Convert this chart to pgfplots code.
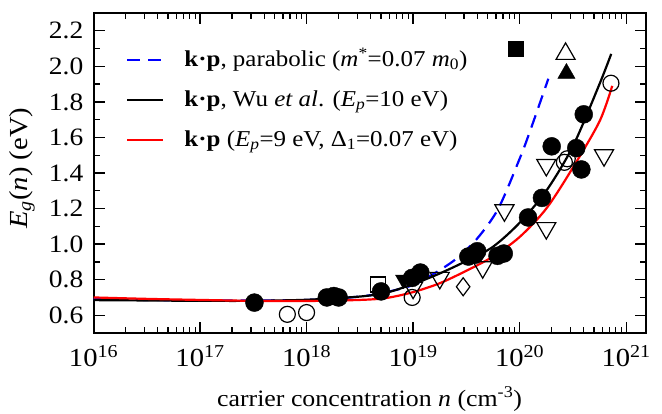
\documentclass[border=0pt]{standalone}
\usepackage{pgfplots}
\pgfplotsset{compat=1.18}
\usepackage{fontspec}
\setmainfont{Liberation Serif}[FakeStretch=1.1]

% model curves: n (cm^-3), Eg (eV)
\pgfplotstableread{
n        eg
1e16     0.685
3.16e16  0.683
1e17     0.681
3.16e17  0.681
1e18     0.687
3.16e18  0.705
5.62e18  0.727
1e19     0.775
1.78e19  0.835
3.16e19  0.905
5.62e19  0.985
1e20     1.12
1.78e20  1.30
3.16e20  1.55
5.62e20  1.90
7.24e20  2.07
}\wuTable

\pgfplotstableread{
n        eg
1e16     0.700
3.16e16  0.692
1e17     0.686
3.16e17  0.681
1e18     0.680
3.16e18  0.686
5.62e18  0.697
1e19     0.730
1.78e19  0.780
3.16e19  0.850
5.62e19  0.930
1e20     1.040
1.78e20  1.20
3.16e20  1.43
5.62e20  1.69
7.4e20   1.89
}\npTable

\pgfplotstableread{
n        eg
1e16     0.690
1e17     0.683
1e18     0.686
3.16e18  0.705
5.62e18  0.730
1e19     0.770
1.58e19  0.835
2.51e19  0.915
3.98e19  1.03
6.31e19  1.20
1e20     1.48
1.26e20  1.64
1.86e20  1.93
}\parTable

\begin{document}
\fontsize{22.7}{26}\selectfont
\begin{tikzpicture}
\useasboundingbox (0,0) rectangle (662pt,413pt);
\begin{axis}[
  at={(93.5pt,80pt)}, anchor=south west,
  scale only axis, width=552pt, height=320pt,
  xmode=log, xmin=1e16, xmax=1.52e21, ymin=0.5, ymax=2.3,
  xtick={1e16,1e17,1e18,1e19,1e20,1e21},
  xticklabels={10\textsuperscript{16},10\textsuperscript{17},10\textsuperscript{18},10\textsuperscript{19},10\textsuperscript{20},10\textsuperscript{21}},
  xtick pos=both,
  ytick={0.6,0.8,...,2.2},
  yticklabels={0.6,0.8,1.0,1.2,1.4,1.6,1.8,2.0,2.2},
  minor y tick num=1,
  ytick pos=both,
  xticklabel pos=bottom, yticklabel pos=left,
  xticklabel style={inner sep=0pt, yshift=-12pt, font=\fontsize{26}{30}\selectfont},
  yticklabel style={inner sep=0pt, xshift=-10pt, font=\fontsize{25}{29}\selectfont},
  tick align=inside,
  major tick length=11pt, minor tick length=6pt,
  every tick/.style={line width=1.3pt, black},
  axis line style={line width=2pt},
  xlabel={carrier concentration \textit{n} (cm\textsuperscript{-3})},
  ylabel={\textit{E}\textsubscript{\textit{g}}(\textit{n}) (eV)},
  xlabel style={at={(axis description cs:0.5,-0.206)}, anchor=center, font=\fontsize{23.5}{27}\selectfont},
  ylabel style={at={(axis description cs:-0.1295,0.515)}, anchor=center, font=\fontsize{26}{30}\selectfont},
  legend style={at={(axis description cs:0.0589,0.878)}, anchor=north west,
    draw=none, fill=none, inner sep=0pt, row sep=21pt, column sep=20pt,
    nodes={inner sep=0pt, text height=14pt, text depth=5pt, anchor=base west}},
  legend cell align=left,
  legend image code/.code={\draw[#1] (0pt,6pt) -- (36pt,6pt);},
]
% experimental points (drawn first, curves go over them)
\addplot[only marks, mark=*, mark size=9pt, mark options={fill=black, draw=black}, forget plot]
coordinates {(3.24e17,0.671) (1.55e18,0.70) (1.8e18,0.708) (2.0e18,0.70) (5.0e18,0.734)
 (9.8e18,0.81) (1.17e19,0.84) (3.3e19,0.93) (4.0e19,0.96) (3.8e19,0.94) (6.2e19,0.934) (7.1e19,0.947)
 (1.2e20,1.15) (1.62e20,1.26) (2.0e20,1.55) (3.4e20,1.54) (3.8e20,1.42) (4.0e20,1.73)};
\addplot[only marks, mark=o, mark size=8pt, mark options={line width=1.2pt, draw=black}, forget plot]
coordinates {(6.6e17,0.605) (1.0e18,0.615) (9.8e18,0.70) (2.63e20,1.46) (2.8e20,1.48) (7.2e20,1.905)};
\addplot[only marks, mark=triangle, mark size=11pt, mark options={rotate=180, line width=1.2pt, draw=black}, forget plot]
coordinates {(1e19,0.755) (1.78e19,0.81) (4.5e19,0.87) (7.2e19,1.19) (1.78e20,1.09) (1.78e20,1.445) (6.2e20,1.50)};
\addplot[only marks, mark=triangle*, mark size=9pt, mark options={rotate=180, fill=black, draw=black}, forget plot]
coordinates {(8.1e18,0.80)};
\addplot[only marks, mark=diamond, mark size=9pt, mark options={line width=1.2pt, draw=black}, forget plot]
coordinates {(2.95e19,0.76)};
\addplot[only marks, mark=square, mark size=7.5pt, mark options={line width=1.2pt, draw=black}, forget plot]
coordinates {(4.7e18,0.773)};
\addplot[only marks, mark=square*, mark size=7.5pt, mark options={fill=black, draw=black}, forget plot]
coordinates {(9.1e19,2.10)};
\addplot[only marks, mark=triangle, mark size=11pt, mark options={line width=1.2pt, draw=black}, forget plot]
coordinates {(2.7e20,2.07)};
\addplot[only marks, mark=triangle*, mark size=10pt, mark options={fill=black, draw=black}, forget plot]
coordinates {(2.75e20,1.96)};
% model curves
\addplot[blue, line width=2.2pt, dash pattern=on 13pt off 8pt, smooth] table[x=n, y=eg] {\parTable};
\addlegendentry{\textbf{k·p}, parabolic (\textit{m}\textsuperscript{*}=0.07 \textit{m}\textsubscript{0})}
\addplot[black, line width=2.2pt, smooth] table[x=n, y=eg] {\wuTable};
\addlegendentry{\textbf{k·p}, Wu \textit{et al}. (\textit{E}\textsubscript{\textit{p}}=10 eV)}
\addplot[red, line width=2.2pt, smooth] table[x=n, y=eg] {\npTable};
\addlegendentry{\textbf{k·p} (\textit{E}\textsubscript{\textit{p}}=9 eV, Δ\textsubscript{1}=0.07 eV)}
\end{axis}
\end{tikzpicture}
\end{document}
